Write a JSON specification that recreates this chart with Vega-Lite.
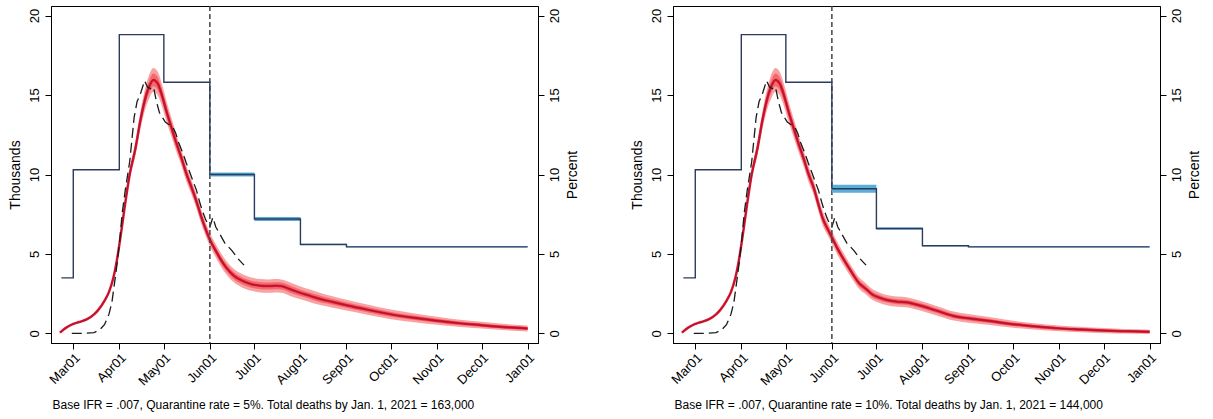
{
  "$schema": "https://vega.github.io/schema/vega-lite/v6.json",
  "padding": {"left": 7, "top": 4, "right": 5, "bottom": 5},
  "spacing": 49,
  "config": {
    "font": "Liberation Sans",
    "view": {"stroke": "#000", "strokeWidth": 1},
    "axis": {"domainColor": "#000", "tickColor": "#000", "labelColor": "#000", "titleColor": "#000", "grid": false, "labelFont": "Liberation Sans", "titleFont": "Liberation Sans", "titleFontWeight": "normal", "labelFontSize": 13, "titleFontSize": 14, "tickSize": 6, "labelOverlap": false, "labelFlush": false}
  },
  "datasets": {
    "redL": [
      {"d": "2020-02-21", "m": 0.05, "lo": 0.0, "hi": 0.1, "lo2": 0.02, "hi2": 0.08},
      {"d": "2020-02-25", "m": 0.35, "lo": 0.29, "hi": 0.41, "lo2": 0.32, "hi2": 0.38},
      {"d": "2020-03-01", "m": 0.6, "lo": 0.54, "hi": 0.66, "lo2": 0.57, "hi2": 0.63},
      {"d": "2020-03-05", "m": 0.72, "lo": 0.66, "hi": 0.78, "lo2": 0.69, "hi2": 0.75},
      {"d": "2020-03-10", "m": 0.88, "lo": 0.81, "hi": 0.95, "lo2": 0.84, "hi2": 0.92},
      {"d": "2020-03-15", "m": 1.2, "lo": 1.12, "hi": 1.28, "lo2": 1.16, "hi2": 1.24},
      {"d": "2020-03-18", "m": 1.5, "lo": 1.42, "hi": 1.58, "lo2": 1.46, "hi2": 1.54},
      {"d": "2020-03-22", "m": 2.05, "lo": 1.95, "hi": 2.15, "lo2": 2.0, "hi2": 2.1},
      {"d": "2020-03-25", "m": 2.6, "lo": 2.5, "hi": 2.7, "lo2": 2.55, "hi2": 2.65},
      {"d": "2020-03-28", "m": 3.5, "lo": 3.38, "hi": 3.62, "lo2": 3.44, "hi2": 3.56},
      {"d": "2020-03-30", "m": 4.4, "lo": 4.28, "hi": 4.52, "lo2": 4.34, "hi2": 4.46},
      {"d": "2020-04-02", "m": 6.2, "lo": 6.05, "hi": 6.35, "lo2": 6.12, "hi2": 6.28},
      {"d": "2020-04-05", "m": 8.2, "lo": 8.0, "hi": 8.4, "lo2": 8.1, "hi2": 8.3},
      {"d": "2020-04-08", "m": 10.0, "lo": 9.7, "hi": 10.3, "lo2": 9.85, "hi2": 10.15},
      {"d": "2020-04-12", "m": 11.7, "lo": 11.25, "hi": 12.15, "lo2": 11.45, "hi2": 11.95},
      {"d": "2020-04-15", "m": 13.3, "lo": 12.75, "hi": 13.85, "lo2": 13.0, "hi2": 13.6},
      {"d": "2020-04-18", "m": 14.6, "lo": 13.95, "hi": 15.25, "lo2": 14.25, "hi2": 14.95},
      {"d": "2020-04-21", "m": 15.5, "lo": 14.75, "hi": 16.25, "lo2": 15.1, "hi2": 15.9},
      {"d": "2020-04-24", "m": 15.95, "lo": 15.2, "hi": 16.7, "lo2": 15.55, "hi2": 16.35},
      {"d": "2020-04-27", "m": 15.7, "lo": 14.95, "hi": 16.45, "lo2": 15.3, "hi2": 16.1},
      {"d": "2020-04-30", "m": 14.9, "lo": 14.2, "hi": 15.6, "lo2": 14.52, "hi2": 15.28},
      {"d": "2020-05-03", "m": 13.9, "lo": 13.25, "hi": 14.55, "lo2": 13.55, "hi2": 14.25},
      {"d": "2020-05-06", "m": 13.0, "lo": 12.4, "hi": 13.6, "lo2": 12.68, "hi2": 13.32},
      {"d": "2020-05-09", "m": 12.1, "lo": 11.55, "hi": 12.65, "lo2": 11.8, "hi2": 12.4},
      {"d": "2020-05-13", "m": 11.0, "lo": 10.5, "hi": 11.5, "lo2": 10.72, "hi2": 11.28},
      {"d": "2020-05-16", "m": 10.1, "lo": 9.6, "hi": 10.6, "lo2": 9.82, "hi2": 10.38},
      {"d": "2020-05-20", "m": 9.1, "lo": 8.65, "hi": 9.55, "lo2": 8.85, "hi2": 9.35},
      {"d": "2020-05-23", "m": 8.3, "lo": 7.85, "hi": 8.75, "lo2": 8.05, "hi2": 8.55},
      {"d": "2020-05-26", "m": 7.4, "lo": 6.95, "hi": 7.85, "lo2": 7.15, "hi2": 7.65},
      {"d": "2020-05-29", "m": 6.6, "lo": 6.18, "hi": 7.02, "lo2": 6.38, "hi2": 6.82},
      {"d": "2020-06-01", "m": 5.9, "lo": 5.48, "hi": 6.32, "lo2": 5.68, "hi2": 6.12},
      {"d": "2020-06-05", "m": 5.2, "lo": 4.78, "hi": 5.62, "lo2": 4.98, "hi2": 5.42},
      {"d": "2020-06-08", "m": 4.7, "lo": 4.28, "hi": 5.12, "lo2": 4.48, "hi2": 4.92},
      {"d": "2020-06-12", "m": 4.15, "lo": 3.73, "hi": 4.57, "lo2": 3.93, "hi2": 4.37},
      {"d": "2020-06-17", "m": 3.65, "lo": 3.23, "hi": 4.07, "lo2": 3.43, "hi2": 3.87},
      {"d": "2020-06-22", "m": 3.35, "lo": 2.93, "hi": 3.77, "lo2": 3.13, "hi2": 3.57},
      {"d": "2020-06-29", "m": 3.1, "lo": 2.68, "hi": 3.52, "lo2": 2.88, "hi2": 3.32},
      {"d": "2020-07-05", "m": 3.0, "lo": 2.58, "hi": 3.42, "lo2": 2.78, "hi2": 3.22},
      {"d": "2020-07-10", "m": 2.98, "lo": 2.56, "hi": 3.4, "lo2": 2.76, "hi2": 3.2},
      {"d": "2020-07-15", "m": 3.0, "lo": 2.58, "hi": 3.42, "lo2": 2.78, "hi2": 3.22},
      {"d": "2020-07-19", "m": 2.98, "lo": 2.56, "hi": 3.4, "lo2": 2.76, "hi2": 3.2},
      {"d": "2020-07-26", "m": 2.75, "lo": 2.33, "hi": 3.17, "lo2": 2.53, "hi2": 2.97},
      {"d": "2020-08-01", "m": 2.55, "lo": 2.15, "hi": 2.95, "lo2": 2.35, "hi2": 2.75},
      {"d": "2020-08-08", "m": 2.35, "lo": 1.95, "hi": 2.75, "lo2": 2.15, "hi2": 2.55},
      {"d": "2020-08-15", "m": 2.15, "lo": 1.77, "hi": 2.53, "lo2": 1.95, "hi2": 2.35},
      {"d": "2020-08-22", "m": 2.0, "lo": 1.64, "hi": 2.36, "lo2": 1.82, "hi2": 2.18},
      {"d": "2020-09-01", "m": 1.78, "lo": 1.44, "hi": 2.12, "lo2": 1.61, "hi2": 1.95},
      {"d": "2020-09-15", "m": 1.5, "lo": 1.18, "hi": 1.82, "lo2": 1.34, "hi2": 1.66},
      {"d": "2020-10-01", "m": 1.2, "lo": 0.9, "hi": 1.5, "lo2": 1.05, "hi2": 1.35},
      {"d": "2020-10-15", "m": 1.0, "lo": 0.72, "hi": 1.28, "lo2": 0.86, "hi2": 1.14},
      {"d": "2020-11-01", "m": 0.8, "lo": 0.55, "hi": 1.05, "lo2": 0.67, "hi2": 0.93},
      {"d": "2020-11-15", "m": 0.65, "lo": 0.42, "hi": 0.88, "lo2": 0.53, "hi2": 0.77},
      {"d": "2020-12-01", "m": 0.52, "lo": 0.31, "hi": 0.73, "lo2": 0.41, "hi2": 0.63},
      {"d": "2020-12-15", "m": 0.41, "lo": 0.21, "hi": 0.61, "lo2": 0.31, "hi2": 0.51},
      {"d": "2021-01-01", "m": 0.31, "lo": 0.12, "hi": 0.5, "lo2": 0.21, "hi2": 0.41}
    ],
    "redR": [
      {"d": "2020-02-21", "m": 0.05, "lo": 0.0, "hi": 0.1, "lo2": 0.02, "hi2": 0.08},
      {"d": "2020-02-25", "m": 0.35, "lo": 0.29, "hi": 0.41, "lo2": 0.32, "hi2": 0.38},
      {"d": "2020-03-01", "m": 0.6, "lo": 0.54, "hi": 0.66, "lo2": 0.57, "hi2": 0.63},
      {"d": "2020-03-05", "m": 0.72, "lo": 0.66, "hi": 0.78, "lo2": 0.69, "hi2": 0.75},
      {"d": "2020-03-10", "m": 0.88, "lo": 0.81, "hi": 0.95, "lo2": 0.84, "hi2": 0.92},
      {"d": "2020-03-15", "m": 1.2, "lo": 1.12, "hi": 1.28, "lo2": 1.16, "hi2": 1.24},
      {"d": "2020-03-18", "m": 1.5, "lo": 1.42, "hi": 1.58, "lo2": 1.46, "hi2": 1.54},
      {"d": "2020-03-22", "m": 2.05, "lo": 1.95, "hi": 2.15, "lo2": 2.0, "hi2": 2.1},
      {"d": "2020-03-25", "m": 2.6, "lo": 2.5, "hi": 2.7, "lo2": 2.55, "hi2": 2.65},
      {"d": "2020-03-28", "m": 3.5, "lo": 3.38, "hi": 3.62, "lo2": 3.44, "hi2": 3.56},
      {"d": "2020-03-30", "m": 4.4, "lo": 4.28, "hi": 4.52, "lo2": 4.34, "hi2": 4.46},
      {"d": "2020-04-02", "m": 6.2, "lo": 6.05, "hi": 6.35, "lo2": 6.12, "hi2": 6.28},
      {"d": "2020-04-05", "m": 8.2, "lo": 8.0, "hi": 8.4, "lo2": 8.1, "hi2": 8.3},
      {"d": "2020-04-08", "m": 10.0, "lo": 9.7, "hi": 10.3, "lo2": 9.85, "hi2": 10.15},
      {"d": "2020-04-12", "m": 11.7, "lo": 11.25, "hi": 12.15, "lo2": 11.45, "hi2": 11.95},
      {"d": "2020-04-15", "m": 13.3, "lo": 12.75, "hi": 13.85, "lo2": 13.0, "hi2": 13.6},
      {"d": "2020-04-18", "m": 14.6, "lo": 13.95, "hi": 15.25, "lo2": 14.25, "hi2": 14.95},
      {"d": "2020-04-21", "m": 15.5, "lo": 14.75, "hi": 16.25, "lo2": 15.1, "hi2": 15.9},
      {"d": "2020-04-24", "m": 15.95, "lo": 15.2, "hi": 16.7, "lo2": 15.55, "hi2": 16.35},
      {"d": "2020-04-27", "m": 15.7, "lo": 14.95, "hi": 16.45, "lo2": 15.3, "hi2": 16.1},
      {"d": "2020-04-30", "m": 14.9, "lo": 14.2, "hi": 15.6, "lo2": 14.52, "hi2": 15.28},
      {"d": "2020-05-03", "m": 13.9, "lo": 13.25, "hi": 14.55, "lo2": 13.55, "hi2": 14.25},
      {"d": "2020-05-06", "m": 13.0, "lo": 12.4, "hi": 13.6, "lo2": 12.68, "hi2": 13.32},
      {"d": "2020-05-09", "m": 12.1, "lo": 11.55, "hi": 12.65, "lo2": 11.8, "hi2": 12.4},
      {"d": "2020-05-13", "m": 11.0, "lo": 10.5, "hi": 11.5, "lo2": 10.72, "hi2": 11.28},
      {"d": "2020-05-16", "m": 10.1, "lo": 9.6, "hi": 10.6, "lo2": 9.82, "hi2": 10.38},
      {"d": "2020-05-20", "m": 9.1, "lo": 8.65, "hi": 9.55, "lo2": 8.85, "hi2": 9.35},
      {"d": "2020-05-23", "m": 8.1, "lo": 7.65, "hi": 8.55, "lo2": 7.85, "hi2": 8.35},
      {"d": "2020-05-26", "m": 7.2, "lo": 6.75, "hi": 7.65, "lo2": 6.95, "hi2": 7.45},
      {"d": "2020-05-29", "m": 6.6, "lo": 6.2, "hi": 7.0, "lo2": 6.4, "hi2": 6.8},
      {"d": "2020-06-01", "m": 6.05, "lo": 5.65, "hi": 6.45, "lo2": 5.85, "hi2": 6.25},
      {"d": "2020-06-05", "m": 5.3, "lo": 4.9, "hi": 5.7, "lo2": 5.1, "hi2": 5.5},
      {"d": "2020-06-10", "m": 4.5, "lo": 4.12, "hi": 4.88, "lo2": 4.31, "hi2": 4.69},
      {"d": "2020-06-15", "m": 3.75, "lo": 3.38, "hi": 4.12, "lo2": 3.56, "hi2": 3.94},
      {"d": "2020-06-19", "m": 3.2, "lo": 2.84, "hi": 3.56, "lo2": 3.02, "hi2": 3.38},
      {"d": "2020-06-24", "m": 2.8, "lo": 2.45, "hi": 3.15, "lo2": 2.62, "hi2": 2.98},
      {"d": "2020-06-28", "m": 2.47, "lo": 2.13, "hi": 2.81, "lo2": 2.3, "hi2": 2.64},
      {"d": "2020-07-03", "m": 2.25, "lo": 1.92, "hi": 2.58, "lo2": 2.08, "hi2": 2.42},
      {"d": "2020-07-08", "m": 2.1, "lo": 1.78, "hi": 2.42, "lo2": 1.94, "hi2": 2.26},
      {"d": "2020-07-15", "m": 2.0, "lo": 1.68, "hi": 2.32, "lo2": 1.84, "hi2": 2.16},
      {"d": "2020-07-22", "m": 1.95, "lo": 1.63, "hi": 2.27, "lo2": 1.79, "hi2": 2.11},
      {"d": "2020-07-31", "m": 1.74, "lo": 1.43, "hi": 2.05, "lo2": 1.58, "hi2": 1.9},
      {"d": "2020-08-10", "m": 1.45, "lo": 1.15, "hi": 1.75, "lo2": 1.3, "hi2": 1.6},
      {"d": "2020-08-22", "m": 1.1, "lo": 0.82, "hi": 1.38, "lo2": 0.96, "hi2": 1.24},
      {"d": "2020-09-01", "m": 0.95, "lo": 0.68, "hi": 1.22, "lo2": 0.82, "hi2": 1.08},
      {"d": "2020-09-14", "m": 0.8, "lo": 0.55, "hi": 1.05, "lo2": 0.67, "hi2": 0.93},
      {"d": "2020-10-01", "m": 0.58, "lo": 0.36, "hi": 0.8, "lo2": 0.47, "hi2": 0.69},
      {"d": "2020-10-15", "m": 0.45, "lo": 0.25, "hi": 0.65, "lo2": 0.35, "hi2": 0.55},
      {"d": "2020-11-01", "m": 0.32, "lo": 0.14, "hi": 0.5, "lo2": 0.23, "hi2": 0.41},
      {"d": "2020-11-15", "m": 0.25, "lo": 0.08, "hi": 0.42, "lo2": 0.16, "hi2": 0.34},
      {"d": "2020-12-01", "m": 0.18, "lo": 0.02, "hi": 0.34, "lo2": 0.1, "hi2": 0.26},
      {"d": "2020-12-15", "m": 0.14, "lo": 0.0, "hi": 0.28, "lo2": 0.07, "hi2": 0.21},
      {"d": "2021-01-01", "m": 0.1, "lo": -0.04, "hi": 0.24, "lo2": 0.03, "hi2": 0.17}
    ],
    "actual": [
      {"d": "2020-02-29", "v": 0},
      {"d": "2020-03-05", "v": 0},
      {"d": "2020-03-10", "v": 0.02},
      {"d": "2020-03-15", "v": 0.05},
      {"d": "2020-03-19", "v": 0.25},
      {"d": "2020-03-22", "v": 0.55},
      {"d": "2020-03-25", "v": 1.2},
      {"d": "2020-03-27", "v": 1.95},
      {"d": "2020-03-30", "v": 4.0},
      {"d": "2020-04-01", "v": 5.6},
      {"d": "2020-04-03", "v": 7.6},
      {"d": "2020-04-05", "v": 9.0},
      {"d": "2020-04-08", "v": 10.8},
      {"d": "2020-04-11", "v": 13.6},
      {"d": "2020-04-13", "v": 14.6},
      {"d": "2020-04-15", "v": 15.0},
      {"d": "2020-04-17", "v": 15.6},
      {"d": "2020-04-18", "v": 15.9},
      {"d": "2020-04-20", "v": 15.5},
      {"d": "2020-04-22", "v": 15.4},
      {"d": "2020-04-24", "v": 15.5},
      {"d": "2020-04-26", "v": 14.6},
      {"d": "2020-04-28", "v": 13.9},
      {"d": "2020-05-02", "v": 13.3},
      {"d": "2020-05-05", "v": 13.1},
      {"d": "2020-05-07", "v": 13.0},
      {"d": "2020-05-09", "v": 12.6},
      {"d": "2020-05-11", "v": 12.0},
      {"d": "2020-05-14", "v": 11.3},
      {"d": "2020-05-16", "v": 10.75},
      {"d": "2020-05-19", "v": 10.0},
      {"d": "2020-05-21", "v": 9.5},
      {"d": "2020-05-23", "v": 9.0},
      {"d": "2020-05-25", "v": 8.3},
      {"d": "2020-05-27", "v": 7.7},
      {"d": "2020-05-29", "v": 7.2},
      {"d": "2020-05-31", "v": 6.8},
      {"d": "2020-06-01", "v": 6.7},
      {"d": "2020-06-03", "v": 7.3},
      {"d": "2020-06-05", "v": 6.7},
      {"d": "2020-06-08", "v": 6.2},
      {"d": "2020-06-11", "v": 5.7},
      {"d": "2020-06-14", "v": 5.4},
      {"d": "2020-06-16", "v": 5.2},
      {"d": "2020-06-20", "v": 4.7},
      {"d": "2020-06-24", "v": 4.3}
    ],
    "stepL": [
      {"d": "2020-02-22", "p": 3.5},
      {"d": "2020-03-01", "p": 10.3},
      {"d": "2020-04-01", "p": 18.8},
      {"d": "2020-05-01", "p": 15.8},
      {"d": "2020-06-01", "p": 10.0},
      {"d": "2020-07-01", "p": 7.2},
      {"d": "2020-08-01", "p": 5.6},
      {"d": "2020-09-01", "p": 5.45},
      {"d": "2021-01-01", "p": 5.45}
    ],
    "bandL": [
      {"d": "2020-06-01", "lo": 9.88, "hi": 10.12},
      {"d": "2020-07-01", "lo": 7.08, "hi": 7.32},
      {"d": "2020-08-01", "lo": 5.56, "hi": 5.64},
      {"d": "2020-09-01", "lo": 5.42, "hi": 5.48},
      {"d": "2021-01-01", "lo": 5.42, "hi": 5.48}
    ],
    "stepR": [
      {"d": "2020-02-22", "p": 3.5},
      {"d": "2020-03-01", "p": 10.3},
      {"d": "2020-04-01", "p": 18.8},
      {"d": "2020-05-01", "p": 15.8},
      {"d": "2020-06-01", "p": 9.1},
      {"d": "2020-07-01", "p": 6.6},
      {"d": "2020-08-01", "p": 5.52},
      {"d": "2020-09-01", "p": 5.45},
      {"d": "2021-01-01", "p": 5.45}
    ],
    "bandR": [
      {"d": "2020-06-01", "lo": 8.85, "hi": 9.35},
      {"d": "2020-07-01", "lo": 6.53, "hi": 6.67},
      {"d": "2020-08-01", "lo": 5.48, "hi": 5.56},
      {"d": "2020-09-01", "lo": 5.42, "hi": 5.48},
      {"d": "2021-01-01", "lo": 5.42, "hi": 5.48}
    ],
    "jun": [{"d": "2020-06-01"}]
  },
  "hconcat": [
    {
      "width": 487,
      "height": 337,
      "encoding": {
        "x": {
          "field": "d", "type": "temporal",
          "scale": {"type": "utc", "domain": [{"year": 2020, "month": 2, "date": 15, "utc": true}, {"year": 2021, "month": 1, "date": 8, "utc": true}]},
          "axis": {
            "title": "Base IFR = .007, Quarantine rate = 5%. Total deaths by Jan. 1, 2021 = 163,000",
            "titleFontSize": 12, "titleX": 1, "titleY": 61, "titleAlign": "left", "titleBaseline": "middle", "titleAnchor": "start",
            "format": "%b%d", "labelAngle": 315, "labelAlign": "right", "labelBaseline": "top", "labelPadding": 2,
            "values": [
              {"year": 2020, "month": 3, "date": 1, "utc": true}, {"year": 2020, "month": 4, "date": 1, "utc": true},
              {"year": 2020, "month": 5, "date": 1, "utc": true}, {"year": 2020, "month": 6, "date": 1, "utc": true},
              {"year": 2020, "month": 7, "date": 1, "utc": true}, {"year": 2020, "month": 8, "date": 1, "utc": true},
              {"year": 2020, "month": 9, "date": 1, "utc": true}, {"year": 2020, "month": 10, "date": 1, "utc": true},
              {"year": 2020, "month": 11, "date": 1, "utc": true}, {"year": 2020, "month": 12, "date": 1, "utc": true},
              {"year": 2021, "month": 1, "date": 1, "utc": true}
            ]
          }
        }
      },
      "resolve": {"scale": {"y": "independent"}},
      "layer": [
        {"data": {"name": "redL"}, "mark": {"type": "area", "color": "#f8a3a3", "interpolate": "monotone"},
         "encoding": {"y": {"field": "lo", "type": "quantitative", "scale": {"domain": [-0.6, 20.6], "nice": false, "zero": false},
           "axis": {"orient": "left", "title": "Thousands", "values": [0, 5, 10, 15, 20], "labelAngle": 270, "labelAlign": "center", "labelBaseline": "bottom", "labelPadding": 4, "titlePadding": 6}},
           "y2": {"field": "hi"}}},
        {"data": {"name": "redL"}, "mark": {"type": "area", "color": "#f26a6e", "interpolate": "monotone"},
         "encoding": {"y": {"field": "lo2", "type": "quantitative", "scale": {"domain": [-0.6, 20.6], "nice": false, "zero": false}, "axis": null}, "y2": {"field": "hi2"}}},
        {"data": {"name": "redL"}, "mark": {"type": "line", "color": "#e8142c", "strokeWidth": 2.5, "interpolate": "monotone"},
         "encoding": {"y": {"field": "m", "type": "quantitative", "scale": {"domain": [-0.6, 20.6], "nice": false, "zero": false}, "axis": null}}},
        {"data": {"name": "redL"}, "mark": {"type": "line", "color": "#8a1a3c", "strokeWidth": 0.8, "interpolate": "monotone"},
         "encoding": {"y": {"field": "m", "type": "quantitative", "scale": {"domain": [-0.6, 20.6], "nice": false, "zero": false}, "axis": null}}},
        {"data": {"name": "actual"}, "mark": {"type": "line", "color": "#1a1a1a", "strokeWidth": 1.3, "strokeDash": [10, 5]},
         "encoding": {"y": {"field": "v", "type": "quantitative", "scale": {"domain": [-0.6, 20.6], "nice": false, "zero": false}, "axis": null}}},
        {"data": {"name": "jun"}, "mark": {"type": "rule", "color": "#444444", "strokeWidth": 1.5, "strokeDash": [5, 3]},
         "encoding": {}},
        {"data": {"name": "bandL"}, "mark": {"type": "area", "color": "#5aaed8", "interpolate": "step-after"},
         "encoding": {"y": {"field": "lo", "type": "quantitative", "scale": {"domain": [-0.6, 20.6], "nice": false, "zero": false}, "axis": null},
           "y2": {"field": "hi"}}},
        {"data": {"name": "stepL"}, "mark": {"type": "line", "color": "#2b3a5e", "strokeWidth": 1.4, "interpolate": "step-after"},
         "encoding": {"y": {"field": "p", "type": "quantitative", "scale": {"domain": [-0.6, 20.6], "nice": false, "zero": false},
           "axis": {"orient": "right", "title": "Percent", "values": [0, 5, 10, 15, 20], "labelAngle": 270, "labelAlign": "center", "labelBaseline": "top", "labelPadding": 4, "titlePadding": 18, "titleAngle": 270}}}}
      ]
    },
    {
      "width": 487,
      "height": 337,
      "encoding": {
        "x": {
          "field": "d", "type": "temporal",
          "scale": {"type": "utc", "domain": [{"year": 2020, "month": 2, "date": 15, "utc": true}, {"year": 2021, "month": 1, "date": 8, "utc": true}]},
          "axis": {
            "title": "Base IFR = .007, Quarantine rate = 10%. Total deaths by Jan. 1, 2021 = 144,000",
            "titleFontSize": 12, "titleX": 1, "titleY": 61, "titleAlign": "left", "titleBaseline": "middle", "titleAnchor": "start",
            "format": "%b%d", "labelAngle": 315, "labelAlign": "right", "labelBaseline": "top", "labelPadding": 2,
            "values": [
              {"year": 2020, "month": 3, "date": 1, "utc": true}, {"year": 2020, "month": 4, "date": 1, "utc": true},
              {"year": 2020, "month": 5, "date": 1, "utc": true}, {"year": 2020, "month": 6, "date": 1, "utc": true},
              {"year": 2020, "month": 7, "date": 1, "utc": true}, {"year": 2020, "month": 8, "date": 1, "utc": true},
              {"year": 2020, "month": 9, "date": 1, "utc": true}, {"year": 2020, "month": 10, "date": 1, "utc": true},
              {"year": 2020, "month": 11, "date": 1, "utc": true}, {"year": 2020, "month": 12, "date": 1, "utc": true},
              {"year": 2021, "month": 1, "date": 1, "utc": true}
            ]
          }
        }
      },
      "resolve": {"scale": {"y": "independent"}},
      "layer": [
        {"data": {"name": "redR"}, "mark": {"type": "area", "color": "#f8a3a3", "interpolate": "monotone"},
         "encoding": {"y": {"field": "lo", "type": "quantitative", "scale": {"domain": [-0.6, 20.6], "nice": false, "zero": false},
           "axis": {"orient": "left", "title": "Thousands", "values": [0, 5, 10, 15, 20], "labelAngle": 270, "labelAlign": "center", "labelBaseline": "bottom", "labelPadding": 4, "titlePadding": 6}},
           "y2": {"field": "hi"}}},
        {"data": {"name": "redR"}, "mark": {"type": "area", "color": "#f26a6e", "interpolate": "monotone"},
         "encoding": {"y": {"field": "lo2", "type": "quantitative", "scale": {"domain": [-0.6, 20.6], "nice": false, "zero": false}, "axis": null}, "y2": {"field": "hi2"}}},
        {"data": {"name": "redR"}, "mark": {"type": "line", "color": "#e8142c", "strokeWidth": 2.5, "interpolate": "monotone"},
         "encoding": {"y": {"field": "m", "type": "quantitative", "scale": {"domain": [-0.6, 20.6], "nice": false, "zero": false}, "axis": null}}},
        {"data": {"name": "redR"}, "mark": {"type": "line", "color": "#8a1a3c", "strokeWidth": 0.8, "interpolate": "monotone"},
         "encoding": {"y": {"field": "m", "type": "quantitative", "scale": {"domain": [-0.6, 20.6], "nice": false, "zero": false}, "axis": null}}},
        {"data": {"name": "actual"}, "mark": {"type": "line", "color": "#1a1a1a", "strokeWidth": 1.3, "strokeDash": [10, 5]},
         "encoding": {"y": {"field": "v", "type": "quantitative", "scale": {"domain": [-0.6, 20.6], "nice": false, "zero": false}, "axis": null}}},
        {"data": {"name": "jun"}, "mark": {"type": "rule", "color": "#444444", "strokeWidth": 1.5, "strokeDash": [5, 3]},
         "encoding": {}},
        {"data": {"name": "bandR"}, "mark": {"type": "area", "color": "#5aaed8", "interpolate": "step-after"},
         "encoding": {"y": {"field": "lo", "type": "quantitative", "scale": {"domain": [-0.6, 20.6], "nice": false, "zero": false}, "axis": null},
           "y2": {"field": "hi"}}},
        {"data": {"name": "stepR"}, "mark": {"type": "line", "color": "#2b3a5e", "strokeWidth": 1.4, "interpolate": "step-after"},
         "encoding": {"y": {"field": "p", "type": "quantitative", "scale": {"domain": [-0.6, 20.6], "nice": false, "zero": false},
           "axis": {"orient": "right", "title": "Percent", "values": [0, 5, 10, 15, 20], "labelAngle": 270, "labelAlign": "center", "labelBaseline": "top", "labelPadding": 4, "titlePadding": 18, "titleAngle": 270}}}}
      ]
    }
  ]
}
